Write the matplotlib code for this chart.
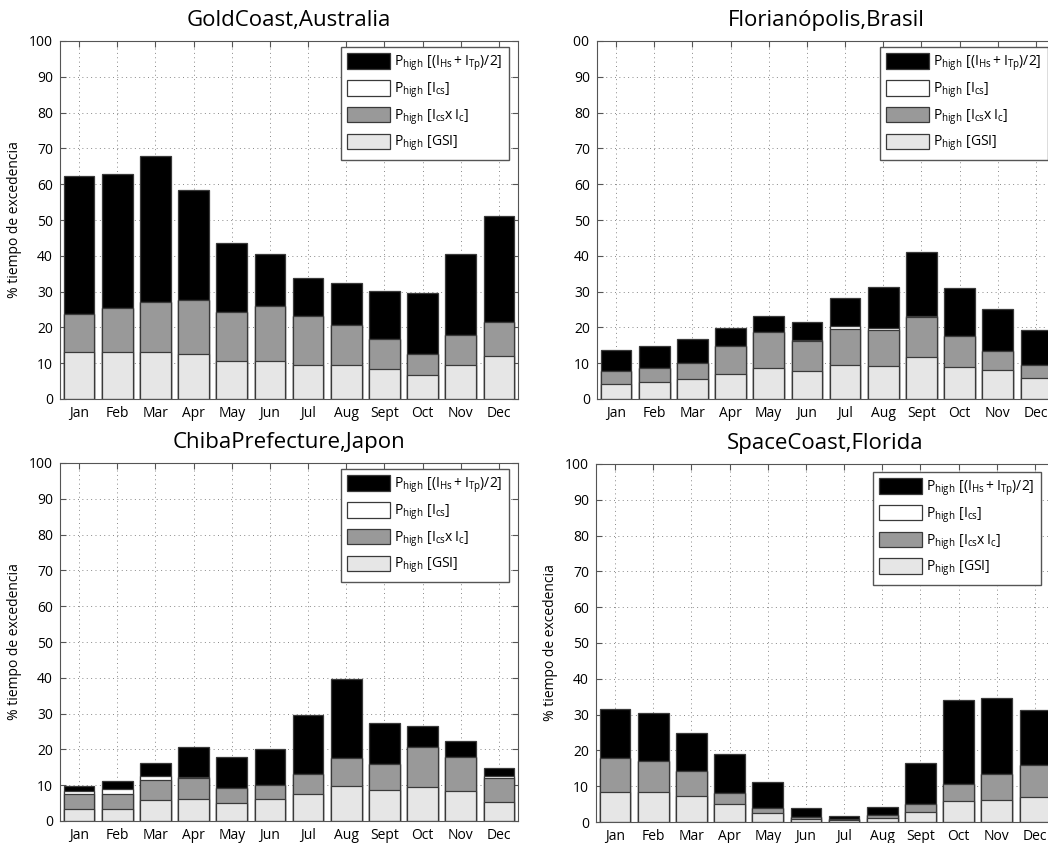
import numpy as np
import matplotlib.pyplot as plt
from matplotlib.transforms import Bbox

plt.rcParams['font.family'] = ['Open Sans', 'DejaVu Sans']
plt.rcParams['mathtext.fontset'] = 'custom'
plt.rcParams['mathtext.rm'] = 'Open Sans'
plt.rcParams['mathtext.it'] = 'Open Sans:italic'
plt.rcParams['mathtext.default'] = 'rm'

meses = ['Jan', 'Feb', 'Mar', 'Apr', 'May', 'Jun', 'Jul', 'Aug', 'Sept', 'Oct', 'Nov', 'Dec']

# niveles acumulados (% tiempo de excedencia) de cada indice
gc_total = [62.2, 62.9, 67.9, 58.5, 43.5, 40.4, 33.8, 32.3, 30.3, 29.7, 40.4, 51.0]
gc_ics   = [23.8, 25.4, 27.2, 27.7, 24.2, 26.0, 23.3, 20.8, 16.8, 12.5, 17.8, 21.4]
gc_icsic = [23.8, 25.4, 27.2, 27.7, 24.2, 26.0, 23.3, 20.8, 16.8, 12.5, 17.8, 21.4]
gc_gsi   = [13.0, 13.2, 13.2, 12.7, 10.7, 10.7, 9.6, 9.6, 8.3, 6.6, 9.6, 12.0]

fl_total = [13.7, 14.8, 16.7, 19.7, 23.3, 21.4, 28.1, 31.2, 41.0, 30.9, 25.0, 19.2]
fl_ics   = [7.8, 8.6, 10.0, 14.7, 18.6, 16.6, 20.4, 19.9, 23.3, 17.5, 13.4, 9.5]
fl_icsic = [7.8, 8.6, 10.0, 14.7, 18.6, 16.2, 19.6, 19.3, 23.0, 17.5, 13.4, 9.5]
fl_gsi   = [4.2, 4.8, 5.5, 6.9, 8.7, 7.8, 9.4, 9.1, 11.6, 8.8, 8.0, 5.8]

ch_total = [9.7, 11.3, 16.3, 20.7, 17.8, 20.2, 29.5, 39.7, 27.3, 26.4, 22.3, 14.7]
ch_ics   = [8.3, 8.8, 12.6, 12.3, 9.1, 10.0, 13.1, 17.5, 15.9, 20.6, 17.9, 12.7]
ch_icsic = [7.6, 7.6, 11.5, 12.0, 9.1, 10.0, 13.1, 17.5, 15.9, 20.6, 17.9, 12.1]
ch_gsi   = [3.3, 3.3, 6.0, 6.2, 4.9, 6.2, 7.5, 9.8, 8.6, 9.5, 8.4, 5.3]

sc_total = [31.5, 30.4, 25.0, 18.9, 11.2, 3.8, 1.8, 4.3, 16.4, 34.2, 34.7, 31.3]
sc_ics   = [17.8, 17.1, 14.3, 8.1, 3.9, 1.4, 0.8, 2.0, 5.1, 10.6, 13.5, 15.8]
sc_icsic = [17.8, 17.1, 14.3, 8.1, 3.9, 1.4, 0.8, 2.0, 5.1, 10.6, 13.5, 15.8]
sc_gsi   = [8.3, 8.3, 7.3, 5.0, 2.5, 0.7, 0.5, 1.1, 2.7, 5.8, 6.2, 7.0]

etiquetas = [r'$P_{high}\ [(I_{Hs}+I_{Tp})/2]$',
             r'$P_{high}\ [I_{cs}]$',
             r'$P_{high}\ [I_{cs}x\,I_c]$',
             r'$P_{high}\ [GSI]$']
colores = ['black', 'white', '#999999', '#e6e6e6']

fig = plt.figure(figsize=(10.48, 8.43), dpi=100)
W = 458 / 1048
H = 358 / 843
ax1 = fig.add_axes([60 / 1048, 1 - 399 / 843, W, H])
ax2 = fig.add_axes([597 / 1048, 1 - 399 / 843, W, H])
ax3 = fig.add_axes([60 / 1048, 1 - 821 / 843, W, H])
ax4 = fig.add_axes([596 / 1048, 1 - 822 / 843, W, H])


def panel(ax, titulo, capas, ylabel=True, leg_anchor=(0.98, 0.983)):
    x = np.arange(1, 13)
    for vals, col, lab in zip(capas, colores, etiquetas):
        ax.bar(x, vals, width=0.8, color=col, edgecolor='#3a3a3a', linewidth=0.9, label=lab)
    ax.set_xlim(0.5, 12.5)
    ax.set_ylim(0, 100)
    ax.set_xticks(x)
    ax.set_xticklabels(meses, fontsize=10)
    ax.set_yticks(np.arange(0, 101, 10))
    ax.tick_params(axis='y', labelsize=10)
    ax.tick_params(direction='in', top=True, right=True, length=4, color='#555555', pad=5)
    ax.grid(True, linestyle=(0, (1, 3.5)), color='#888888', linewidth=0.7)
    ax.set_axisbelow(True)
    for s in ax.spines.values():
        s.set_color('#555555')
    ax.set_title(titulo, fontsize=16, pad=11)
    if ylabel:
        ax.set_ylabel('% tiempo de excedencia', fontsize=10, labelpad=5)
    ax.legend(loc='upper right', bbox_to_anchor=leg_anchor, borderaxespad=0,
              fancybox=False, framealpha=1, edgecolor='#555555', fontsize=10,
              handlelength=3.1, handleheight=1.35, labelspacing=0.5,
              borderpad=0.45, handletextpad=0.3)


panel(ax1, 'GoldCoast,Australia', [gc_total, gc_ics, gc_icsic, gc_gsi])
panel(ax2, 'Florianópolis,Brasil', [fl_total, fl_ics, fl_icsic, fl_gsi], ylabel=False,
      leg_anchor=(0.985, 0.983))
panel(ax3, 'ChibaPrefecture,Japon', [ch_total, ch_ics, ch_icsic, ch_gsi])
panel(ax4, 'SpaceCoast,Florida', [sc_total, sc_ics, sc_icsic, sc_gsi],
      leg_anchor=(0.972, 0.978))

# el panel de arriba a la derecha queda recortado por su borde izquierdo:
# del rotulo "100" solo se ve "00" (se recorta justo antes del ancho de "00")
fig.canvas.draw()
renderer = fig.canvas.get_renderer()
lab100 = ax2.get_yticklabels()[-1]
ext = lab100.get_window_extent(renderer)
ref90 = ax2.get_yticklabels()[-2].get_window_extent(renderer)
x0 = ref90.x0 - 1
lab100.set_clip_box(Bbox([[x0, ext.y0 - 5], [ext.x1 + 5, ext.y1 + 5]]))
lab100.set_clip_on(True)

fig.savefig('out.png', dpi=100)
